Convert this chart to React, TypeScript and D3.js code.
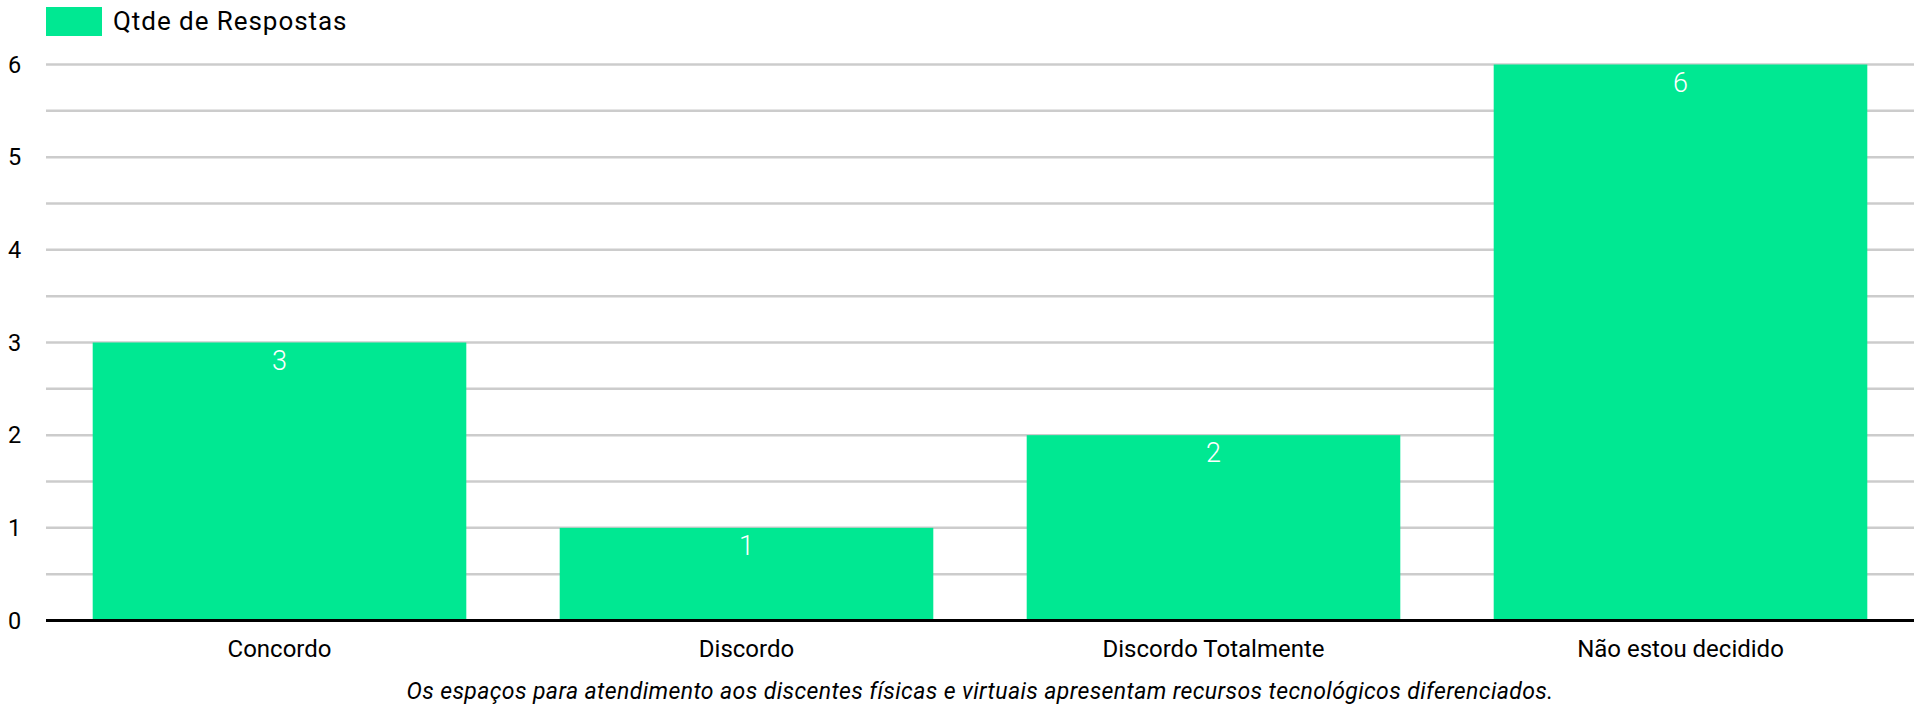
import React from "react";
import * as d3 from "d3";

const categories: string[] = ["Concordo", "Discordo", "Discordo Totalmente", "Não estou decidido"];
const values: number[] = [3, 1, 2, 6];
const seriesName = "Qtde de Respostas";
const yTicks: number[] = [0, 1, 2, 3, 4, 5, 6];
const gridTicks: number[] = [0.5, 1, 1.5, 2, 2.5, 3, 3.5, 4, 4.5, 5, 5.5, 6];
const subtitle =
  "Os espaços para atendimento aos discentes físicas e virtuais apresentam recursos tecnológicos diferenciados.";

const W = 1914;
const H = 706;
const left = 46;
const right = 1914;
const top = 64.5;
const bottom = 620.5;
const color = "#00e892";
const font = "Roboto, 'Noto Sans', sans-serif";

export default function App() {
  const x = d3.scaleBand<string>().domain(categories).range([left, right]).paddingInner(0.2).paddingOuter(0.1);
  const y = d3.scaleLinear().domain([0, 6]).range([bottom, top]);

  return (
    <svg
      width={W}
      height={H}
      style={{ position: "absolute", left: 0, top: 0, background: "#fff" }}
      fontFamily={font}
    >
      {/* legend */}
      <rect x={46} y={7} width={56} height={29} fill={color} />
      <text x={113} y={30} fontSize={26} letterSpacing={0.95} fill="#000">
        {seriesName}
      </text>

      {/* grid */}
      {gridTicks.map((t) => (
        <line key={t} x1={left} x2={right} y1={y(t)} y2={y(t)} stroke="#cccccc" strokeWidth={2.5} />
      ))}

      {/* y labels */}
      {yTicks.map((t) => (
        <text key={t} x={8} y={y(t)} dy="0.35em" fontSize={23.5} fill="#000">
          {t}
        </text>
      ))}

      {/* bars */}
      {categories.map((c, i) => (
        <g key={c}>
          <rect
            x={x(c)!}
            y={y(values[i])}
            width={x.bandwidth()}
            height={y(0) - y(values[i])}
            fill={color}
          />
          <text
            x={x(c)! + x.bandwidth() / 2}
            y={y(values[i]) + 27}
            textAnchor="middle"
            fontSize={27}
            fontWeight={300}
            fill="#fff"
          >
            {values[i]}
          </text>
          <text x={x(c)! + x.bandwidth() / 2} y={657} textAnchor="middle" fontSize={24} fill="#000">
            {c}
          </text>
        </g>
      ))}

      {/* baseline */}
      <line x1={left} x2={right} y1={y(0)} y2={y(0)} stroke="#000" strokeWidth={3} />

      {/* subtitle */}
      <text x={980} y={699} textAnchor="middle" fontSize={23} letterSpacing={0.4} fontStyle="italic" fill="#000">
        {subtitle}
      </text>
    </svg>
  );
}
